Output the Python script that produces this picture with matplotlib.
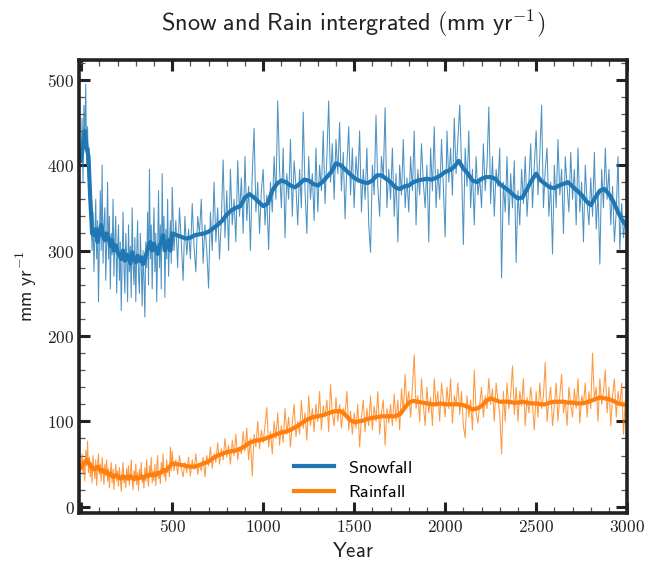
import numpy as np
import matplotlib
matplotlib.use("Agg")
import matplotlib.pyplot as plt
from matplotlib.ticker import MultipleLocator, FuncFormatter

plt.rcParams['mathtext.fontset'] = 'cm'

# ---------------- data ----------------
# raw (thin) series: 5-year steps for 0-495, 10-year steps for 500-2990
raw_years_early = np.arange(0, 500, 5)
raw_years_late = np.arange(500, 3000, 10)

snow_raw_early = [
    410, 455, 380, 470, 430, 495, 400, 445, 385, 420,
    360, 330, 300, 345, 275, 320, 360, 290, 335, 240,
    310, 370, 300, 400, 285, 330, 350, 265, 310, 380,
    290, 340, 255, 320, 295, 360, 270, 315, 340, 250,
    300, 330, 265, 310, 230, 290, 345, 280, 250, 320,
    295, 240, 330, 275, 305, 245, 350, 285, 260, 315,
    240, 295, 335, 270, 250, 320, 285, 235, 300, 265,
    222, 310, 280, 345, 260, 395, 290, 330, 255, 310,
    350, 275, 320, 240, 300, 370, 280, 330, 255, 390,
    300, 340, 245, 325, 290, 360, 270, 310, 335, 285]

snow_raw_late = [
    374, 300, 335, 280, 350, 310, 265, 340, 295, 325,
    290, 355, 305, 275, 340, 320, 360, 285, 330, 300,
    256, 345, 300, 380, 310, 350, 290, 335, 406, 315,
    370, 300, 395, 330, 360, 310, 405, 340, 385, 320,
    410, 335, 375, 300, 390, 443, 345, 380, 320, 370,
    395, 330, 365, 301, 380, 345, 410, 360, 475, 395,
    350, 420, 315, 390, 360, 430, 340, 405, 375, 330,
    395, 350, 462, 370, 320, 410, 360, 390, 335, 420,
    345, 400, 370, 440, 355, 410, 475, 380, 425, 360,
    430, 390, 450, 370, 415, 337, 400, 445, 365, 420,
    350, 410, 380, 440, 345, 395, 360, 420, 330, 298,
    400, 365, 458, 375, 340, 410, 385, 467, 350, 395,
    360, 420, 340, 390, 310, 400, 365, 430, 350, 385,
    345, 410, 370, 440, 330, 395, 365, 425, 380, 350,
    400, 310, 420, 370, 445, 350, 395, 360, 430, 375,
    316, 440, 380, 420, 365, 455, 390, 430, 470, 400,
    307, 420, 375, 440, 350, 395, 330, 410, 365, 385,
    350, 425, 370, 400, 468, 355, 410, 340, 395, 375,
    420, 268, 380, 345, 410, 330, 390, 350, 405, 286,
    370, 330, 395, 355, 410, 340, 380, 425, 350, 400,
    440, 365, 410, 470, 350, 395, 420, 340, 380, 296,
    400, 350, 430, 365, 395, 320, 410, 375, 345, 415,
    360, 395, 330, 420, 345, 380, 310, 400, 355, 330,
    385, 340, 415, 325, 370, 284, 395, 350, 420, 360,
    395, 330, 375, 310, 345, 410, 300, 355, 315, 340]

rain_raw_early = [
    45, 62, 38, 55, 30, 66, 48, 77, 40, 58,
    35, 52, 28, 60, 44, 33, 55, 25, 48, 62,
    38, 50, 30, 58, 42, 26, 50, 36, 55, 30,
    45, 22, 40, 52, 28, 44, 20, 38, 50, 30,
    42, 24, 46, 33, 18, 40, 52, 28, 36, 22,
    45, 31, 48, 25, 38, 55, 30, 20, 42, 34,
    50, 26, 40, 19, 44, 32, 52, 28, 37, 22,
    46, 30, 55, 33, 24, 48, 36, 58, 28, 42,
    30, 50, 25, 45, 60, 33, 40, 27, 52, 38,
    62, 35, 45, 30, 55, 40, 48, 35, 70, 42]

rain_raw_late = [
    65, 42, 55, 38, 60, 45, 35, 52, 40, 58,
    36, 55, 44, 62, 38, 50, 42, 58, 35, 60,
    48, 70, 45, 62, 52, 75, 50, 68, 55, 80,
    58, 72, 50, 78, 60, 85, 55, 70, 62, 88,
    65, 92, 55, 80, 36, 85, 70, 100, 68, 90,
    75, 95, 116, 70, 88, 62, 100, 80, 110, 72,
    95, 75, 115, 85, 105, 70, 98, 120, 82, 100,
    85, 125, 92, 110, 78, 130, 95, 115, 88, 120,
    100, 135, 90, 118, 105, 125, 88, 143, 110, 95,
    128, 100, 120, 92, 115, 108, 135, 90, 112, 85,
    110, 92, 120, 70, 105, 125, 88, 115, 95, 130,
    90, 118, 100, 135, 85, 110, 125, 72, 115, 98,
    120, 95, 132, 100, 125, 90, 138, 110, 155, 118,
    135, 105, 140, 178, 115, 130, 100, 150, 120, 95,
    140, 110, 128, 95, 150, 118, 135, 100, 145, 125,
    105, 140, 115, 150, 98, 130, 120, 145, 108, 135,
    95, 81, 130, 105, 125, 90, 160, 110, 98, 120,
    140, 105, 130, 115, 150, 120, 138, 100, 145, 125,
    110, 62, 135, 100, 145, 115, 130, 165, 108, 140,
    100, 135, 118, 150, 95, 128, 110, 140, 120, 90,
    135, 105, 145, 115, 130, 169, 100, 125, 140, 95,
    118, 145, 100, 130, 155, 110, 125, 95, 140, 120,
    105, 138, 115, 150, 98, 130, 120, 145, 105, 135,
    115, 180, 125, 140, 100, 150, 120, 135, 160, 110,
    140, 95, 130, 150, 105, 135, 118, 145, 85, 125]

# smoothed (thick) series: 10-year steps for 0-490, 25-year steps for 500-3000
smooth_years_early = np.arange(0, 500, 10)
smooth_years_late = np.arange(500, 3001, 25)

snow_smooth_early = [
    405, 425, 440, 420, 410, 360, 320, 318, 325, 310,
    322, 330, 318, 312, 320, 315, 305, 312, 300, 306,
    298, 295, 290, 300, 288, 295, 292, 285, 298, 290,
    286, 294, 288, 292, 284, 290, 298, 305, 310, 300,
    308, 302, 296, 305, 310, 318, 300, 305, 312, 300]

snow_smooth_late = [
    320, 318, 316, 314,   315, 318, 319, 320,   322, 326, 330, 335,
    342, 347, 350, 352,   362, 366, 362, 357,   352, 355, 370, 378,
    382, 380, 376, 374,   378, 383, 382, 378,   376, 380, 386, 392,
    402, 400, 395, 390,   385, 382, 380, 379,   382, 388, 388, 384,
    380, 374, 372, 375,   376, 380, 382, 383,   384, 383, 385, 388,
    392, 394, 398, 405,   396, 390, 382, 380,   384, 386, 386, 384,
    378, 374, 370, 365,   361, 362, 372, 382,   390, 382, 378, 374,
    373, 376, 378, 380,   375, 370, 365, 358,   353, 362, 370, 372,
    366, 357, 345, 335,   328]

rain_smooth_early = [
    46, 50, 52, 55, 52, 48, 46, 44, 45, 47,
    44, 42, 43, 40, 41, 38, 39, 36, 35, 37,
    36, 34, 33, 36, 34, 35, 33, 36, 34, 32,
    35, 33, 34, 36, 33, 35, 37, 36, 38, 37,
    38, 37, 40, 39, 41, 43, 42, 44, 46, 48]

rain_smooth_late = [
    51, 50, 49, 48,   47, 47, 49, 51,   53, 57, 60, 62,
    64, 65, 66, 68,   71, 75, 77, 78,   79, 81, 83, 85,
    87, 88, 90, 93,   96, 100, 103, 105,   106, 107, 109, 111,
    112, 112, 108, 102,   99, 100, 101, 103,   104, 105, 106, 106,
    106, 106, 108, 115,   122, 124, 123, 122,   121, 120, 120, 121,
    120, 120, 120, 120,   119, 117, 114, 115,   118, 124, 127, 125,
    123, 123, 123, 122,   122, 123, 122, 121,   121, 120, 120, 122,
    123, 123, 123, 122,   122, 121, 121, 122,   124, 126, 128, 127,
    126, 124, 121, 120,   119]

labels = ["Snowfall", "Rainfall"]
colors = ["#1f77b4", "#ff7f0e"]

# ---------------- plot ----------------
fig = plt.figure(figsize=(6.56, 5.66), dpi=100)
ax = fig.add_axes([0.121, 0.094, 0.835, 0.800])

raw_years = np.concatenate([raw_years_early, raw_years_late])
snow_raw = np.array(snow_raw_early + snow_raw_late)
rain_raw = np.array(rain_raw_early + rain_raw_late)
smooth_years = np.concatenate([smooth_years_early, smooth_years_late])
snow_smooth = np.array(snow_smooth_early + snow_smooth_late)
rain_smooth = np.array(rain_smooth_early + rain_smooth_late)

ax.plot(raw_years, snow_raw, color=colors[0], lw=0.75, alpha=0.8)
ax.plot(smooth_years, snow_smooth, color=colors[0], lw=3.0, label=r"$\mathsf{%s}$" % labels[0])
ax.plot(raw_years, rain_raw, color=colors[1], lw=0.75, alpha=0.8)
ax.plot(smooth_years, rain_smooth, color=colors[1], lw=3.0, label=r"$\mathsf{%s}$" % labels[1])

ax.set_xlim(-10, 3000)
ax.set_ylim(-7, 523)

ax.xaxis.set_major_locator(MultipleLocator(500))
ax.xaxis.set_minor_locator(MultipleLocator(100))
ax.yaxis.set_major_locator(MultipleLocator(100))
ax.yaxis.set_minor_locator(MultipleLocator(20))

def xfmt(v, pos):
    if abs(v) < 1:
        return ""
    return r"$%d$" % int(round(v))

ax.xaxis.set_major_formatter(FuncFormatter(xfmt))
ax.yaxis.set_major_formatter(FuncFormatter(lambda v, p: r"$%d$" % int(round(v))))

ax.tick_params(which='both', direction='in', top=True, right=True, labelsize=12.5, colors='#222222')
ax.tick_params(which='major', length=8, width=2.2)
ax.tick_params(which='minor', length=4.5, width=0.9, color='#555555')
for sp in ax.spines.values():
    sp.set_linewidth(2.6)
    sp.set_color('#222222')

ax.set_xlabel(r"$\mathsf{Year}$", fontsize=15, color='#222222', labelpad=4)
ax.set_ylabel(r"$\mathsf{mm\ yr}^{-1}$", fontsize=14, color='#222222', labelpad=6)
ax.set_title(r"$\mathsf{Snow\ and\ Rain\ intergrated\ (mm\ yr}^{-1}\mathsf{)}$",
             fontsize=17.5, color='#222222', pad=21)

leg = ax.legend(loc='lower center', bbox_to_anchor=(0.5, -0.01), frameon=False, fontsize=13,
                handlelength=2.2, labelspacing=0.35)

fig.savefig("out.png", dpi=100)
